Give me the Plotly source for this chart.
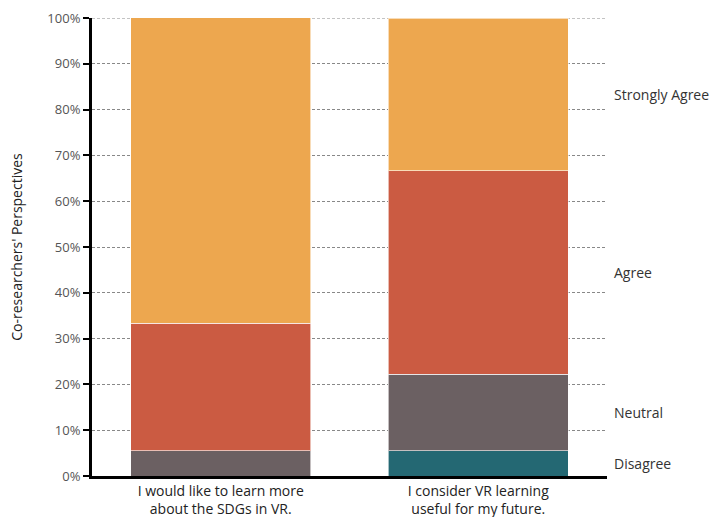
import plotly.graph_objects as go

categories = ["I would like to learn more<br>about the SDGs in VR.",
              "I consider VR learning<br>useful for my future."]
series_names = ["Disagree", "Neutral", "Agree", "Strongly Agree"]
disagree = [0.0, 5.56]
neutral = [5.56, 16.67]
agree = [27.78, 44.44]
strongly_agree = [66.67, 33.33]
y_ticks = [0, 10, 20, 30, 40, 50, 60, 70, 80, 90, 100]
y_tick_labels = [f"{v}%" for v in y_ticks]

series_values = [disagree, neutral, agree, strongly_agree]
colors = ["#246873", "#6B6062", "#CB5B42", "#EDA74F"]

fig = go.Figure()
for name, vals, col in zip(series_names, series_values, colors):
    fig.add_trace(go.Bar(x=categories, y=vals, name=name, width=0.7,
                         marker=dict(color=col, line=dict(color="rgba(255,255,255,0.6)", width=1))))

# right-side labels at the middle of each segment of the second bar
cum = 0
annotations = []
for name, vals in zip(series_names, series_values):
    mid = cum + vals[1] / 2
    cum += vals[1]
    annotations.append(dict(x=1, xref="paper", y=mid, yref="y", text=name,
                            showarrow=False, xanchor="left", xshift=5,
                            font=dict(size=14, color="#333333")))

fig.update_layout(
    barmode="stack",
    width=712, height=517,
    margin=dict(l=92, r=105, t=18, b=41, autoexpand=False),
    plot_bgcolor="white", paper_bgcolor="white",
    showlegend=False,
    font=dict(family="Open Sans", color="#222222"),
    annotations=annotations,
    shapes=[dict(type="line", xref="paper", x0=0, x1=1, yref="y", y0=100, y1=100,
                 line=dict(color="#888888", width=1, dash="3px,2px"), layer="below")],
)
fig.update_yaxes(range=[0, 100], tickvals=y_ticks, ticktext=y_tick_labels, automargin=False,
                 showgrid=True, gridcolor="#888888", gridwidth=1, griddash="3px,2px",
                 showline=True, linecolor="black", linewidth=3,
                 ticks="outside", ticklen=6, tickwidth=2, tickcolor="black",
                 tickfont=dict(size=13, color="#555555"), zeroline=False,
                 title=dict(text="Co-researchers' Perspectives", font=dict(size=14, color="#222222"), standoff=22))
fig.update_xaxes(range=[-0.5, 1.5], showline=True, linecolor="black", linewidth=3, automargin=False,
                 ticks="", tickfont=dict(size=14, color="#222222"))

fig.write_html("out.html")
